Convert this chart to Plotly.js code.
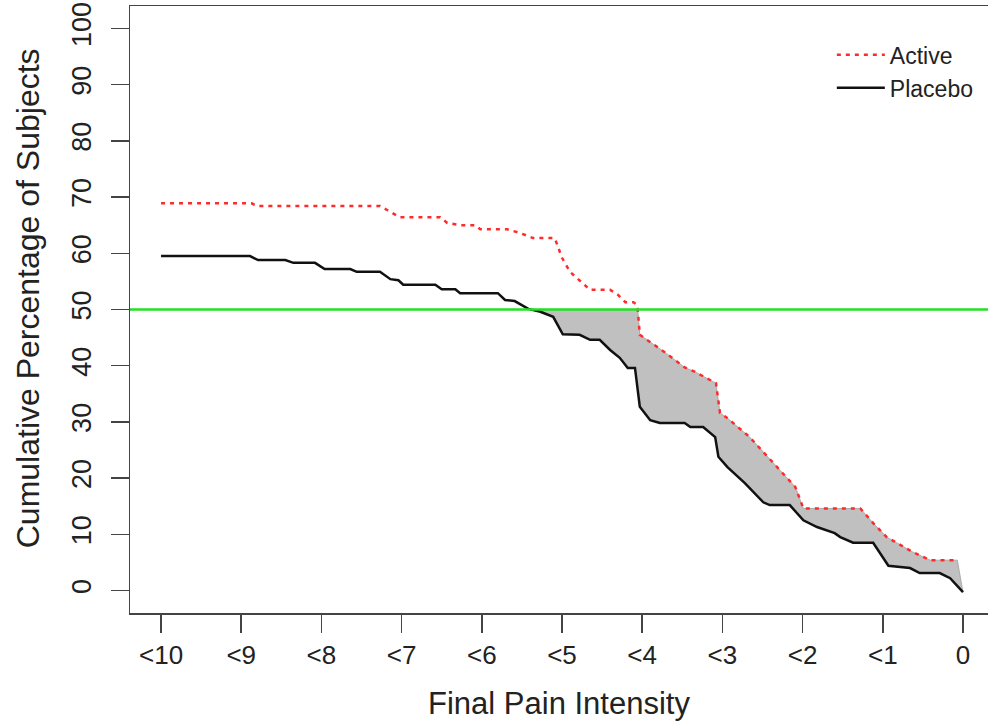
<!DOCTYPE html>
<html>
<head>
<meta charset="utf-8">
<script src="https://cdn.plot.ly/plotly-3.0.1.min.js"></script>
<style>
  html, body { margin: 0; padding: 0; background: #fff; overflow: hidden; }
  #chart { width: 988px; height: 721px; }
</style>
</head>
<body>
<div id="chart"></div>
<script>
// ---- data ----
const tickValues = [10, 9, 8, 7, 6, 5, 4, 3, 2, 1, 0];
const tickLabels = ["<10", "<9", "<8", "<7", "<6", "<5", "<4", "<3", "<2", "<1", "0"];
const yTickValues = [0, 10, 20, 30, 40, 50, 60, 70, 80, 90, 100];

const activeX = [10, 8.87, 8.80, 7.27, 7.18, 7.08, 7.02, 6.52, 6.43, 6.27, 6.08, 6.02, 5.69, 5.52, 5.36, 5.09, 5.00, 4.90, 4.78, 4.65, 4.40, 4.30, 4.21, 4.11, 4.06, 4.03, 3.97, 3.72, 3.47, 3.34, 3.16, 3.08, 3.03, 2.94, 2.66, 2.44, 2.28, 2.09, 1.99, 1.28, 1.12, 0.95, 0.62, 0.41, 0.07];
const activeY = [68.9, 68.9, 68.4, 68.4, 67.7, 66.8, 66.4, 66.4, 65.4, 65.0, 65.0, 64.3, 64.3, 63.6, 62.7, 62.7, 59.2, 56.7, 55.2, 53.5, 53.5, 52.6, 51.3, 51.3, 50.8, 45.5, 44.9, 42.4, 39.7, 38.9, 37.5, 36.9, 31.6, 30.7, 27.3, 23.8, 21.4, 18.4, 14.6, 14.6, 12.0, 9.5, 6.8, 5.4, 5.4];

const placeboX = [10, 8.89, 8.79, 8.45, 8.35, 8.08, 7.96, 7.64, 7.56, 7.27, 7.14, 7.04, 6.98, 6.58, 6.50, 6.33, 6.27, 5.80, 5.71, 5.59, 5.42, 5.27, 5.11, 4.99, 4.78, 4.65, 4.53, 4.40, 4.28, 4.18, 4.09, 4.03, 3.90, 3.78, 3.47, 3.40, 3.24, 3.09, 3.05, 2.94, 2.72, 2.49, 2.41, 2.16, 1.99, 1.82, 1.60, 1.53, 1.37, 1.12, 0.93, 0.66, 0.54, 0.29, 0.16, 0];
const placeboY = [59.5, 59.5, 58.8, 58.8, 58.3, 58.3, 57.2, 57.2, 56.7, 56.7, 55.4, 55.2, 54.4, 54.4, 53.6, 53.6, 52.9, 52.9, 51.7, 51.5, 50.1, 49.6, 48.7, 45.6, 45.5, 44.6, 44.6, 42.8, 41.4, 39.6, 39.6, 32.7, 30.3, 29.8, 29.8, 29.1, 29.1, 27.3, 23.8, 22.0, 19.1, 15.7, 15.2, 15.2, 12.5, 11.3, 10.2, 9.5, 8.5, 8.5, 4.4, 4.0, 3.1, 3.1, 2.2, -0.3];

const threshold = 50;

// ---- shaded region: between min(active, threshold) and placebo, below threshold ----
function crossing(xs, ys, lvl) {
  for (let i = 0; i < xs.length - 1; i++) {
    if (ys[i] >= lvl && ys[i + 1] < lvl) {
      const t = (ys[i] - lvl) / (ys[i] - ys[i + 1]);
      return { x: xs[i] + t * (xs[i + 1] - xs[i]), i: i };
    }
  }
  return null;
}
const cb = crossing(placeboX, placeboY, threshold);
const ca = crossing(activeX, activeY, threshold);
const polyX = [cb.x, ca.x];
const polyY = [threshold, threshold];
for (let i = ca.i + 1; i < activeX.length; i++) { polyX.push(activeX[i]); polyY.push(activeY[i]); }
for (let i = placeboX.length - 1; i > cb.i; i--) { polyX.push(placeboX[i]); polyY.push(placeboY[i]); }

const font = "Liberation Sans, Arial, sans-serif";
const txt = "#222";

const traces = [
  {
    x: polyX, y: polyY, type: "scatter", mode: "lines", fill: "toself",
    fillcolor: "rgb(192,192,192)", line: { color: "rgb(160,160,160)", width: 0.8 },
    showlegend: false, hoverinfo: "skip"
  },
  {
    x: activeX, y: activeY, type: "scatter", mode: "lines", name: "Active",
    line: { color: "#ff2a2a", width: 2.5, dash: "4px,5px" }
  },
  {
    x: placeboX, y: placeboY, type: "scatter", mode: "lines", name: "Placebo",
    line: { color: "#111", width: 2.5 }
  }
];

const layout = {
  width: 988, height: 721,
  margin: { l: 130, r: 0, t: 6, b: 108 },
  paper_bgcolor: "#fff", plot_bgcolor: "#fff",
  font: { family: font, color: txt, size: 25 },
  showlegend: true,
  legend: {
    x: 0.818, y: 0.955, xanchor: "left", yanchor: "top",
    bgcolor: "rgba(0,0,0,0)", borderwidth: 0, itemwidth: 48,
    font: { size: 23, family: font, color: txt },
    traceorder: "normal"
  },
  xaxis: {
    range: [10.387, -0.312],
    tickmode: "array", tickvals: tickValues, ticktext: tickLabels,
    ticks: "outside", ticklen: 18, tickwidth: 1.5, tickcolor: "#444",
    showline: true, mirror: true, linecolor: "#444", linewidth: 1.5,
    showgrid: false, zeroline: false,
    tickfont: { size: 26, family: font, color: txt },
    title: { text: "Final Pain Intensity", font: { size: 31, family: font, color: txt }, standoff: 24 }
  },
  yaxis: {
    range: [-4, 104],
    tickmode: "array", tickvals: yTickValues,
    ticks: "outside", ticklen: 18, tickwidth: 1.5, tickcolor: "#444",
    tickangle: -90, ticklabelstandoff: 9,
    showline: true, mirror: false, linecolor: "#444", linewidth: 1.5,
    showgrid: false, zeroline: false,
    tickfont: { size: 27, family: font, color: txt }
  },
  annotations: [
    { text: "Cumulative Percentage of Subjects", xref: "paper", yref: "y",
      x: -0.1189, y: 52, textangle: -90, showarrow: false,
      xanchor: "center", yanchor: "middle",
      font: { size: 32, family: font, color: txt } }
  ],
  shapes: [
    { type: "line", xref: "paper", yref: "y", x0: 0, x1: 1, y0: threshold, y1: threshold,
      line: { color: "#22e022", width: 2.5 }, layer: "above" }
  ]
};

Plotly.newPlot("chart", traces, layout, { displayModeBar: false, staticPlot: true });
</script>
</body>
</html>
